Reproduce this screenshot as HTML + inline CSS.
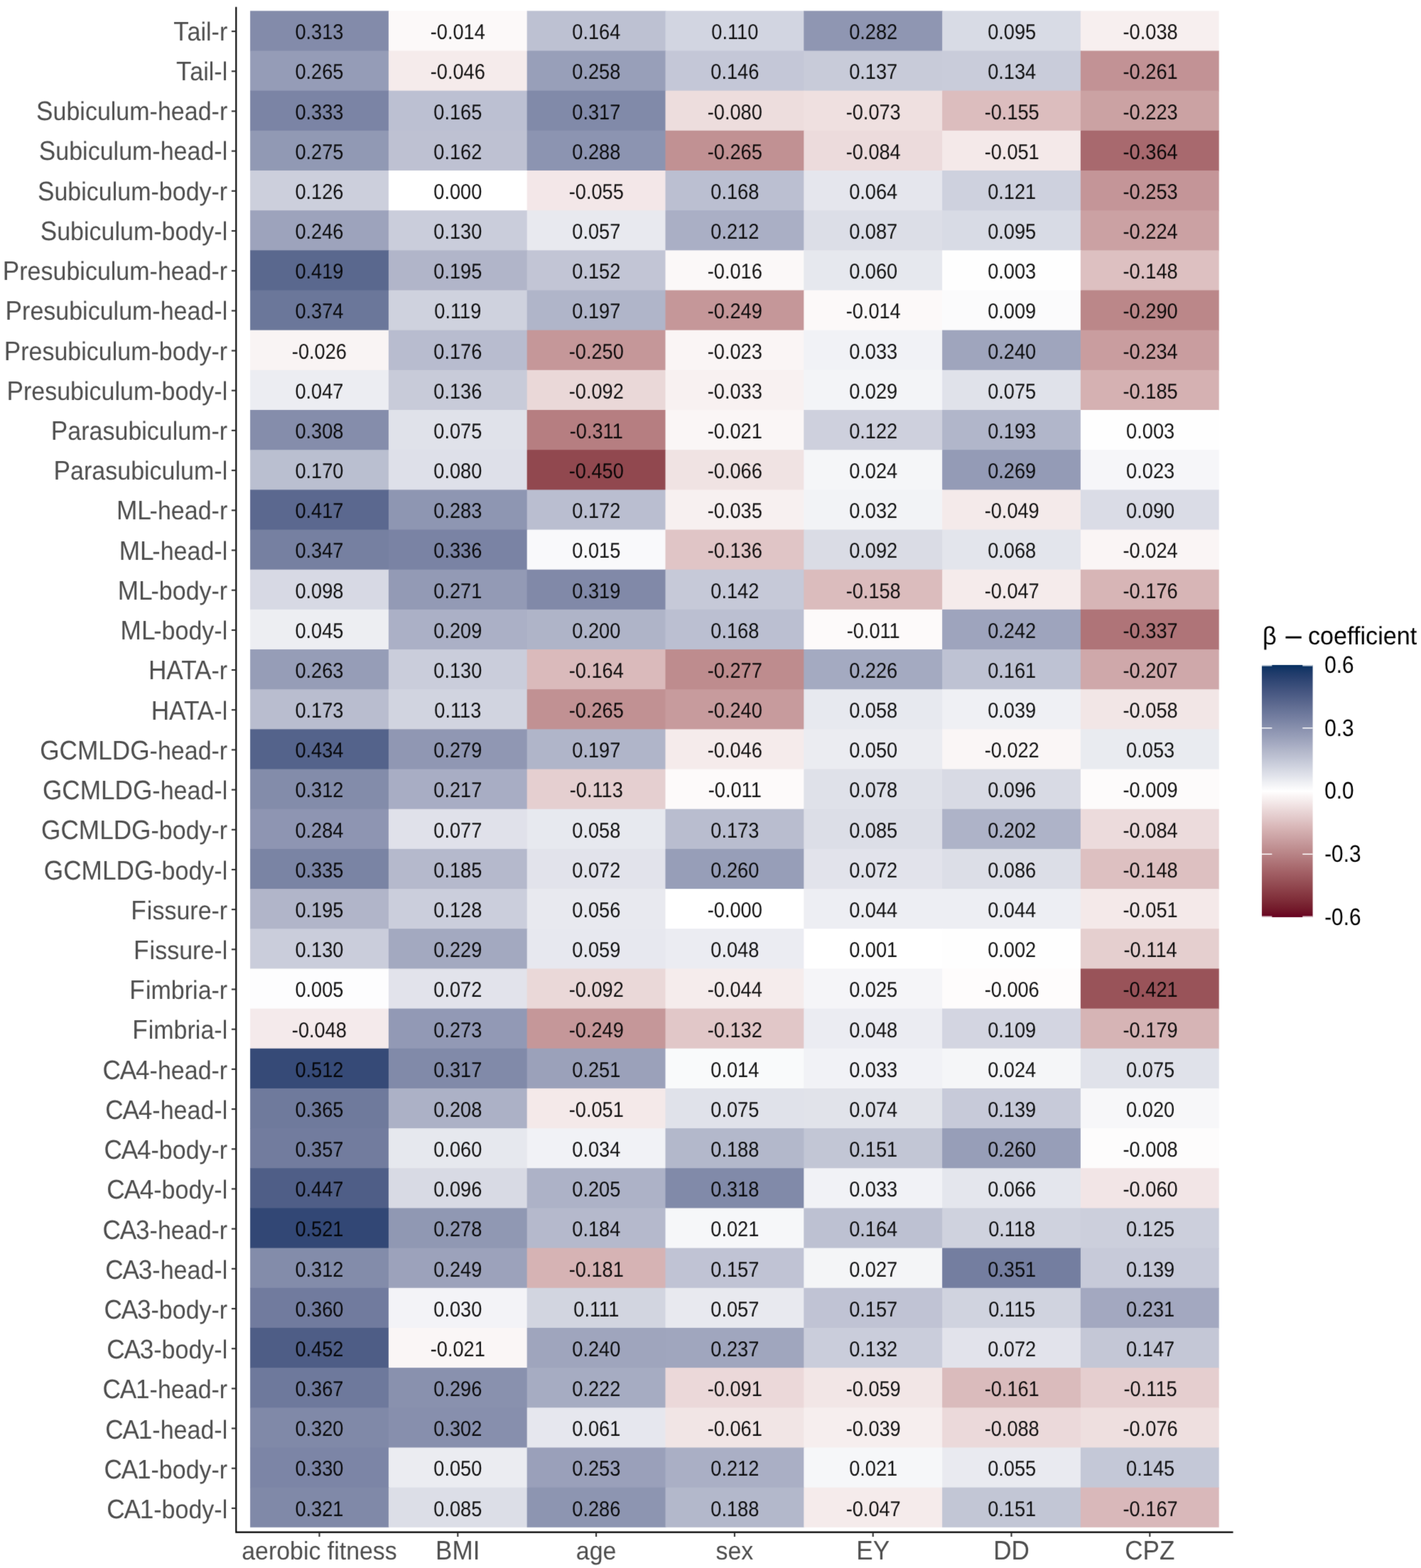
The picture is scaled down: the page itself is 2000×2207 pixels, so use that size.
<!DOCTYPE html>
<html lang="en">
<head>
<meta charset="utf-8">
<title>Heatmap of β-coefficients</title>
<style>
html,body{margin:0;padding:0;background:#fff;}
svg{display:block;}
text{font-family:"Liberation Sans",sans-serif;text-rendering:geometricPrecision;}
.c{font-size:27.2px;fill:#000;fill-opacity:.93;text-anchor:middle;}
.yl{font-size:34.0px;fill:#4D4D4D;text-anchor:end;}
.xl{font-size:33.9px;fill:#4D4D4D;text-anchor:middle;}
.ll{font-size:29.8px;fill:#000;}
.lt{font-size:34.2px;fill:#000;white-space:pre;}
</style>
</head>
<body>
<svg width="2000" height="2207" viewBox="0 0 2000 2207">
<rect width="2000" height="2207" fill="#fff"/>
<defs><linearGradient id="g" x1="0" y1="0" x2="0" y2="1"><stop offset="0.00%" stop-color="#053061"/><stop offset="1.67%" stop-color="#153666"/><stop offset="3.33%" stop-color="#203C6B"/><stop offset="5.00%" stop-color="#294170"/><stop offset="6.67%" stop-color="#324875"/><stop offset="8.33%" stop-color="#3A4E7A"/><stop offset="10.00%" stop-color="#43547F"/><stop offset="11.67%" stop-color="#4A5A84"/><stop offset="13.33%" stop-color="#526189"/><stop offset="15.00%" stop-color="#5A678E"/><stop offset="16.67%" stop-color="#626E93"/><stop offset="18.33%" stop-color="#697599"/><stop offset="20.00%" stop-color="#717B9E"/><stop offset="21.67%" stop-color="#7882A3"/><stop offset="23.33%" stop-color="#8089A8"/><stop offset="25.00%" stop-color="#8890AD"/><stop offset="26.67%" stop-color="#9097B3"/><stop offset="28.33%" stop-color="#979EB8"/><stop offset="30.00%" stop-color="#9FA5BD"/><stop offset="31.67%" stop-color="#A7ACC3"/><stop offset="33.33%" stop-color="#AFB4C8"/><stop offset="35.00%" stop-color="#B7BBCD"/><stop offset="36.67%" stop-color="#BEC2D3"/><stop offset="38.33%" stop-color="#C6CAD8"/><stop offset="40.00%" stop-color="#CED1DE"/><stop offset="41.67%" stop-color="#D6D9E3"/><stop offset="43.33%" stop-color="#DEE0E9"/><stop offset="45.00%" stop-color="#E6E8EE"/><stop offset="46.67%" stop-color="#EFF0F4"/><stop offset="48.33%" stop-color="#F7F7F9"/><stop offset="50.00%" stop-color="#FFFFFF"/><stop offset="51.67%" stop-color="#FBF6F6"/><stop offset="53.33%" stop-color="#F6EEEE"/><stop offset="55.00%" stop-color="#F2E5E6"/><stop offset="56.67%" stop-color="#EDDDDD"/><stop offset="58.33%" stop-color="#E8D4D5"/><stop offset="60.00%" stop-color="#E4CCCD"/><stop offset="61.67%" stop-color="#DFC4C5"/><stop offset="63.33%" stop-color="#DBBBBC"/><stop offset="65.00%" stop-color="#D6B3B4"/><stop offset="66.67%" stop-color="#D1ABAC"/><stop offset="68.33%" stop-color="#CCA3A5"/><stop offset="70.00%" stop-color="#C79B9D"/><stop offset="71.67%" stop-color="#C29395"/><stop offset="73.33%" stop-color="#BD8B8D"/><stop offset="75.00%" stop-color="#B88386"/><stop offset="76.67%" stop-color="#B37B7E"/><stop offset="78.33%" stop-color="#AE7377"/><stop offset="80.00%" stop-color="#A96B6F"/><stop offset="81.67%" stop-color="#A46368"/><stop offset="83.33%" stop-color="#9F5B61"/><stop offset="85.00%" stop-color="#99545A"/><stop offset="86.67%" stop-color="#944C53"/><stop offset="88.33%" stop-color="#8F444C"/><stop offset="90.00%" stop-color="#893C45"/><stop offset="91.67%" stop-color="#84343E"/><stop offset="93.33%" stop-color="#7E2C38"/><stop offset="95.00%" stop-color="#782331"/><stop offset="96.67%" stop-color="#731A2B"/><stop offset="98.33%" stop-color="#6D0E25"/><stop offset="100.00%" stop-color="#67001F"/></linearGradient><filter id="soft" x="0" y="0" width="2000" height="2207" filterUnits="userSpaceOnUse" color-interpolation-filters="sRGB"><feConvolveMatrix order="3" kernelMatrix="0.01134 0.08382 0.01134 0.08382 0.61935 0.08382 0.01134 0.08382 0.01134" divisor="1" edgeMode="duplicate" preserveAlpha="true"/></filter></defs>
<g filter="url(#soft)">
<rect width="2000" height="2207" fill="#fff"/>
<g>
<rect x="352.10" y="15.30" width="195.80" height="57.17" fill="#838BAA"/><rect x="546.90" y="15.30" width="195.80" height="57.17" fill="#FCF9F9"/><rect x="741.70" y="15.30" width="195.80" height="57.17" fill="#BDC1D2"/><rect x="936.50" y="15.30" width="195.80" height="57.17" fill="#D2D5E1"/><rect x="1131.30" y="15.30" width="195.80" height="57.17" fill="#8F96B2"/><rect x="1326.10" y="15.30" width="195.80" height="57.17" fill="#D8DBE5"/><rect x="1520.90" y="15.30" width="194.80" height="57.17" fill="#F7EFEF"/>
<rect x="352.10" y="71.47" width="195.80" height="57.17" fill="#959CB7"/><rect x="546.90" y="71.47" width="195.80" height="57.17" fill="#F5EBEB"/><rect x="741.70" y="71.47" width="195.80" height="57.17" fill="#989FB9"/><rect x="936.50" y="71.47" width="195.80" height="57.17" fill="#C4C7D7"/><rect x="1131.30" y="71.47" width="195.80" height="57.17" fill="#C8CBD9"/><rect x="1326.10" y="71.47" width="195.80" height="57.17" fill="#C9CCDA"/><rect x="1520.90" y="71.47" width="194.80" height="57.17" fill="#C29295"/>
<rect x="352.10" y="127.64" width="195.80" height="57.17" fill="#7B84A5"/><rect x="546.90" y="127.64" width="195.80" height="57.17" fill="#BCC0D2"/><rect x="741.70" y="127.64" width="195.80" height="57.17" fill="#818AA9"/><rect x="936.50" y="127.64" width="195.80" height="57.17" fill="#EDDDDD"/><rect x="1131.30" y="127.64" width="195.80" height="57.17" fill="#EFE0E0"/><rect x="1326.10" y="127.64" width="195.80" height="57.17" fill="#DCBDBE"/><rect x="1520.90" y="127.64" width="194.80" height="57.17" fill="#CBA2A3"/>
<rect x="352.10" y="183.81" width="195.80" height="57.17" fill="#9199B4"/><rect x="546.90" y="183.81" width="195.80" height="57.17" fill="#BEC1D2"/><rect x="741.70" y="183.81" width="195.80" height="57.17" fill="#8C94B1"/><rect x="936.50" y="183.81" width="195.80" height="57.17" fill="#C19193"/><rect x="1131.30" y="183.81" width="195.80" height="57.17" fill="#ECDBDC"/><rect x="1326.10" y="183.81" width="195.80" height="57.17" fill="#F4E9E9"/><rect x="1520.90" y="183.81" width="194.80" height="57.17" fill="#A8696E"/>
<rect x="352.10" y="239.98" width="195.80" height="57.17" fill="#CCCFDC"/><rect x="546.90" y="239.98" width="195.80" height="57.17" fill="#FFFFFF"/><rect x="741.70" y="239.98" width="195.80" height="57.17" fill="#F3E7E8"/><rect x="936.50" y="239.98" width="195.80" height="57.17" fill="#BBBFD1"/><rect x="1131.30" y="239.98" width="195.80" height="57.17" fill="#E5E6ED"/><rect x="1326.10" y="239.98" width="195.80" height="57.17" fill="#CED1DE"/><rect x="1520.90" y="239.98" width="194.80" height="57.17" fill="#C49598"/>
<rect x="352.10" y="296.16" width="195.80" height="57.17" fill="#9DA3BC"/><rect x="546.90" y="296.16" width="195.80" height="57.17" fill="#CACDDB"/><rect x="741.70" y="296.16" width="195.80" height="57.17" fill="#E8E9EF"/><rect x="936.50" y="296.16" width="195.80" height="57.17" fill="#AAAFC5"/><rect x="1131.30" y="296.16" width="195.80" height="57.17" fill="#DCDEE7"/><rect x="1326.10" y="296.16" width="195.80" height="57.17" fill="#D8DBE5"/><rect x="1520.90" y="296.16" width="194.80" height="57.17" fill="#CBA1A3"/>
<rect x="352.10" y="352.33" width="195.80" height="57.17" fill="#5A688E"/><rect x="546.90" y="352.33" width="195.80" height="57.17" fill="#B1B5C9"/><rect x="741.70" y="352.33" width="195.80" height="57.17" fill="#C2C5D5"/><rect x="936.50" y="352.33" width="195.80" height="57.17" fill="#FBF8F8"/><rect x="1131.30" y="352.33" width="195.80" height="57.17" fill="#E6E8EE"/><rect x="1326.10" y="352.33" width="195.80" height="57.17" fill="#FEFEFE"/><rect x="1520.90" y="352.33" width="194.80" height="57.17" fill="#DDC0C1"/>
<rect x="352.10" y="408.50" width="195.80" height="57.17" fill="#6B779A"/><rect x="546.90" y="408.50" width="195.80" height="57.17" fill="#CFD2DE"/><rect x="741.70" y="408.50" width="195.80" height="57.17" fill="#B0B5C9"/><rect x="936.50" y="408.50" width="195.80" height="57.17" fill="#C59799"/><rect x="1131.30" y="408.50" width="195.80" height="57.17" fill="#FCF9F9"/><rect x="1326.10" y="408.50" width="195.80" height="57.17" fill="#FBFBFC"/><rect x="1520.90" y="408.50" width="194.80" height="57.17" fill="#BB8789"/>
<rect x="352.10" y="464.67" width="195.80" height="57.17" fill="#F9F4F4"/><rect x="546.90" y="464.67" width="195.80" height="57.17" fill="#B8BCCF"/><rect x="741.70" y="464.67" width="195.80" height="57.17" fill="#C59799"/><rect x="936.50" y="464.67" width="195.80" height="57.17" fill="#FAF5F5"/><rect x="1131.30" y="464.67" width="195.80" height="57.17" fill="#F1F2F6"/><rect x="1326.10" y="464.67" width="195.80" height="57.17" fill="#9FA5BD"/><rect x="1520.90" y="464.67" width="194.80" height="57.17" fill="#C99D9F"/>
<rect x="352.10" y="520.84" width="195.80" height="57.17" fill="#ECEDF2"/><rect x="546.90" y="520.84" width="195.80" height="57.17" fill="#C8CBD9"/><rect x="741.70" y="520.84" width="195.80" height="57.17" fill="#EAD8D8"/><rect x="936.50" y="520.84" width="195.80" height="57.17" fill="#F8F1F1"/><rect x="1131.30" y="520.84" width="195.80" height="57.17" fill="#F3F4F7"/><rect x="1326.10" y="520.84" width="195.80" height="57.17" fill="#E0E2EA"/><rect x="1520.90" y="520.84" width="194.80" height="57.17" fill="#D5B1B2"/>
<rect x="352.10" y="577.01" width="195.80" height="57.17" fill="#858DAB"/><rect x="546.90" y="577.01" width="195.80" height="57.17" fill="#E0E2EA"/><rect x="741.70" y="577.01" width="195.80" height="57.17" fill="#B67E81"/><rect x="936.50" y="577.01" width="195.80" height="57.17" fill="#FAF6F6"/><rect x="1131.30" y="577.01" width="195.80" height="57.17" fill="#CED0DD"/><rect x="1326.10" y="577.01" width="195.80" height="57.17" fill="#B1B6CA"/><rect x="1520.90" y="577.01" width="194.80" height="57.17" fill="#FEFEFE"/>
<rect x="352.10" y="633.18" width="195.80" height="57.17" fill="#BABFD0"/><rect x="546.90" y="633.18" width="195.80" height="57.17" fill="#DEE0E9"/><rect x="741.70" y="633.18" width="195.80" height="57.17" fill="#91484F"/><rect x="936.50" y="633.18" width="195.80" height="57.17" fill="#F0E3E3"/><rect x="1131.30" y="633.18" width="195.80" height="57.17" fill="#F5F6F8"/><rect x="1326.10" y="633.18" width="195.80" height="57.17" fill="#949BB6"/><rect x="1520.90" y="633.18" width="194.80" height="57.17" fill="#F6F6F9"/>
<rect x="352.10" y="689.35" width="195.80" height="57.17" fill="#5B688F"/><rect x="546.90" y="689.35" width="195.80" height="57.17" fill="#8E96B2"/><rect x="741.70" y="689.35" width="195.80" height="57.17" fill="#BABED0"/><rect x="936.50" y="689.35" width="195.80" height="57.17" fill="#F7F0F0"/><rect x="1131.30" y="689.35" width="195.80" height="57.17" fill="#F2F3F6"/><rect x="1326.10" y="689.35" width="195.80" height="57.17" fill="#F4EAEA"/><rect x="1520.90" y="689.35" width="194.80" height="57.17" fill="#DADCE6"/>
<rect x="352.10" y="745.52" width="195.80" height="57.17" fill="#7680A1"/><rect x="546.90" y="745.52" width="195.80" height="57.17" fill="#7A83A4"/><rect x="741.70" y="745.52" width="195.80" height="57.17" fill="#F9F9FB"/><rect x="936.50" y="745.52" width="195.80" height="57.17" fill="#E0C5C6"/><rect x="1131.30" y="745.52" width="195.80" height="57.17" fill="#DADCE5"/><rect x="1326.10" y="745.52" width="195.80" height="57.17" fill="#E3E5EC"/><rect x="1520.90" y="745.52" width="194.80" height="57.17" fill="#FAF5F5"/>
<rect x="352.10" y="801.69" width="195.80" height="57.17" fill="#D7D9E4"/><rect x="546.90" y="801.69" width="195.80" height="57.17" fill="#939AB5"/><rect x="741.70" y="801.69" width="195.80" height="57.17" fill="#8189A8"/><rect x="936.50" y="801.69" width="195.80" height="57.17" fill="#C6C9D8"/><rect x="1131.30" y="801.69" width="195.80" height="57.17" fill="#DBBCBD"/><rect x="1326.10" y="801.69" width="195.80" height="57.17" fill="#F5EBEB"/><rect x="1520.90" y="801.69" width="194.80" height="57.17" fill="#D7B5B6"/>
<rect x="352.10" y="857.87" width="195.80" height="57.17" fill="#EDEEF2"/><rect x="546.90" y="857.87" width="195.80" height="57.17" fill="#ABB0C6"/><rect x="741.70" y="857.87" width="195.80" height="57.17" fill="#AFB4C8"/><rect x="936.50" y="857.87" width="195.80" height="57.17" fill="#BBBFD1"/><rect x="1131.30" y="857.87" width="195.80" height="57.17" fill="#FDFAFA"/><rect x="1326.10" y="857.87" width="195.80" height="57.17" fill="#9EA4BD"/><rect x="1520.90" y="857.87" width="194.80" height="57.17" fill="#AF7478"/>
<rect x="352.10" y="914.04" width="195.80" height="57.17" fill="#969DB7"/><rect x="546.90" y="914.04" width="195.80" height="57.17" fill="#CACDDB"/><rect x="741.70" y="914.04" width="195.80" height="57.17" fill="#DABABB"/><rect x="936.50" y="914.04" width="195.80" height="57.17" fill="#BE8C8E"/><rect x="1131.30" y="914.04" width="195.80" height="57.17" fill="#A4AAC1"/><rect x="1326.10" y="914.04" width="195.80" height="57.17" fill="#BEC2D3"/><rect x="1520.90" y="914.04" width="194.80" height="57.17" fill="#CFA8AA"/>
<rect x="352.10" y="970.21" width="195.80" height="57.17" fill="#B9BDCF"/><rect x="546.90" y="970.21" width="195.80" height="57.17" fill="#D1D4E0"/><rect x="741.70" y="970.21" width="195.80" height="57.17" fill="#C19193"/><rect x="936.50" y="970.21" width="195.80" height="57.17" fill="#C79B9D"/><rect x="1131.30" y="970.21" width="195.80" height="57.17" fill="#E7E9EF"/><rect x="1326.10" y="970.21" width="195.80" height="57.17" fill="#EFF0F4"/><rect x="1520.90" y="970.21" width="194.80" height="57.17" fill="#F2E6E6"/>
<rect x="352.10" y="1026.38" width="195.80" height="57.17" fill="#54638B"/><rect x="546.90" y="1026.38" width="195.80" height="57.17" fill="#9097B3"/><rect x="741.70" y="1026.38" width="195.80" height="57.17" fill="#B0B5C9"/><rect x="936.50" y="1026.38" width="195.80" height="57.17" fill="#F5EBEB"/><rect x="1131.30" y="1026.38" width="195.80" height="57.17" fill="#EBECF1"/><rect x="1326.10" y="1026.38" width="195.80" height="57.17" fill="#FAF6F6"/><rect x="1520.90" y="1026.38" width="194.80" height="57.17" fill="#E9EBF0"/>
<rect x="352.10" y="1082.55" width="195.80" height="57.17" fill="#838CAA"/><rect x="546.90" y="1082.55" width="195.80" height="57.17" fill="#A8ADC4"/><rect x="741.70" y="1082.55" width="195.80" height="57.17" fill="#E5CFD0"/><rect x="936.50" y="1082.55" width="195.80" height="57.17" fill="#FDFAFA"/><rect x="1131.30" y="1082.55" width="195.80" height="57.17" fill="#DFE1E9"/><rect x="1326.10" y="1082.55" width="195.80" height="57.17" fill="#D8DAE4"/><rect x="1520.90" y="1082.55" width="194.80" height="57.17" fill="#FDFBFB"/>
<rect x="352.10" y="1138.72" width="195.80" height="57.17" fill="#8E95B2"/><rect x="546.90" y="1138.72" width="195.80" height="57.17" fill="#E0E1EA"/><rect x="741.70" y="1138.72" width="195.80" height="57.17" fill="#E7E9EF"/><rect x="936.50" y="1138.72" width="195.80" height="57.17" fill="#B9BDCF"/><rect x="1131.30" y="1138.72" width="195.80" height="57.17" fill="#DCDEE7"/><rect x="1326.10" y="1138.72" width="195.80" height="57.17" fill="#AEB3C8"/><rect x="1520.90" y="1138.72" width="194.80" height="57.17" fill="#ECDBDC"/>
<rect x="352.10" y="1194.89" width="195.80" height="57.17" fill="#7A84A4"/><rect x="546.90" y="1194.89" width="195.80" height="57.17" fill="#B5B9CC"/><rect x="741.70" y="1194.89" width="195.80" height="57.17" fill="#E2E3EB"/><rect x="936.50" y="1194.89" width="195.80" height="57.17" fill="#979EB8"/><rect x="1131.30" y="1194.89" width="195.80" height="57.17" fill="#E2E3EB"/><rect x="1326.10" y="1194.89" width="195.80" height="57.17" fill="#DCDEE7"/><rect x="1520.90" y="1194.89" width="194.80" height="57.17" fill="#DDC0C1"/>
<rect x="352.10" y="1251.06" width="195.80" height="57.17" fill="#B1B5C9"/><rect x="546.90" y="1251.06" width="195.80" height="57.17" fill="#CBCEDC"/><rect x="741.70" y="1251.06" width="195.80" height="57.17" fill="#E8E9EF"/><rect x="936.50" y="1251.06" width="195.80" height="57.17" fill="#FFFFFF"/><rect x="1131.30" y="1251.06" width="195.80" height="57.17" fill="#EDEEF3"/><rect x="1326.10" y="1251.06" width="195.80" height="57.17" fill="#EDEEF3"/><rect x="1520.90" y="1251.06" width="194.80" height="57.17" fill="#F4E9E9"/>
<rect x="352.10" y="1307.23" width="195.80" height="57.17" fill="#CACDDB"/><rect x="546.90" y="1307.23" width="195.80" height="57.17" fill="#A3A9C0"/><rect x="741.70" y="1307.23" width="195.80" height="57.17" fill="#E7E8EF"/><rect x="936.50" y="1307.23" width="195.80" height="57.17" fill="#EBECF2"/><rect x="1131.30" y="1307.23" width="195.80" height="57.17" fill="#FFFFFF"/><rect x="1326.10" y="1307.23" width="195.80" height="57.17" fill="#FEFEFE"/><rect x="1520.90" y="1307.23" width="194.80" height="57.17" fill="#E5CFCF"/>
<rect x="352.10" y="1363.41" width="195.80" height="57.17" fill="#FDFDFE"/><rect x="546.90" y="1363.41" width="195.80" height="57.17" fill="#E2E3EB"/><rect x="741.70" y="1363.41" width="195.80" height="57.17" fill="#EAD8D8"/><rect x="936.50" y="1363.41" width="195.80" height="57.17" fill="#F5ECEC"/><rect x="1131.30" y="1363.41" width="195.80" height="57.17" fill="#F5F5F8"/><rect x="1326.10" y="1363.41" width="195.80" height="57.17" fill="#FEFCFC"/><rect x="1520.90" y="1363.41" width="194.80" height="57.17" fill="#995359"/>
<rect x="352.10" y="1419.58" width="195.80" height="57.17" fill="#F4EAEB"/><rect x="546.90" y="1419.58" width="195.80" height="57.17" fill="#9299B5"/><rect x="741.70" y="1419.58" width="195.80" height="57.17" fill="#C59799"/><rect x="936.50" y="1419.58" width="195.80" height="57.17" fill="#E1C7C8"/><rect x="1131.30" y="1419.58" width="195.80" height="57.17" fill="#EBECF2"/><rect x="1326.10" y="1419.58" width="195.80" height="57.17" fill="#D3D5E1"/><rect x="1520.90" y="1419.58" width="194.80" height="57.17" fill="#D6B4B5"/>
<rect x="352.10" y="1475.75" width="195.80" height="57.17" fill="#364A77"/><rect x="546.90" y="1475.75" width="195.80" height="57.17" fill="#818AA9"/><rect x="741.70" y="1475.75" width="195.80" height="57.17" fill="#9BA1BA"/><rect x="936.50" y="1475.75" width="195.80" height="57.17" fill="#F9FAFB"/><rect x="1131.30" y="1475.75" width="195.80" height="57.17" fill="#F1F2F6"/><rect x="1326.10" y="1475.75" width="195.80" height="57.17" fill="#F5F6F8"/><rect x="1520.90" y="1475.75" width="194.80" height="57.17" fill="#E0E2EA"/>
<rect x="352.10" y="1531.92" width="195.80" height="57.17" fill="#6F7A9C"/><rect x="546.90" y="1531.92" width="195.80" height="57.17" fill="#ACB1C6"/><rect x="741.70" y="1531.92" width="195.80" height="57.17" fill="#F4E9E9"/><rect x="936.50" y="1531.92" width="195.80" height="57.17" fill="#E0E2EA"/><rect x="1131.30" y="1531.92" width="195.80" height="57.17" fill="#E1E3EA"/><rect x="1326.10" y="1531.92" width="195.80" height="57.17" fill="#C7CAD9"/><rect x="1520.90" y="1531.92" width="194.80" height="57.17" fill="#F7F7F9"/>
<rect x="352.10" y="1588.09" width="195.80" height="57.17" fill="#727C9E"/><rect x="546.90" y="1588.09" width="195.80" height="57.17" fill="#E6E8EE"/><rect x="741.70" y="1588.09" width="195.80" height="57.17" fill="#F1F2F6"/><rect x="936.50" y="1588.09" width="195.80" height="57.17" fill="#B3B8CB"/><rect x="1131.30" y="1588.09" width="195.80" height="57.17" fill="#C2C6D5"/><rect x="1326.10" y="1588.09" width="195.80" height="57.17" fill="#979EB8"/><rect x="1520.90" y="1588.09" width="194.80" height="57.17" fill="#FDFCFC"/>
<rect x="352.10" y="1644.26" width="195.80" height="57.17" fill="#4F5E87"/><rect x="546.90" y="1644.26" width="195.80" height="57.17" fill="#D8DAE4"/><rect x="741.70" y="1644.26" width="195.80" height="57.17" fill="#ADB2C7"/><rect x="936.50" y="1644.26" width="195.80" height="57.17" fill="#818AA9"/><rect x="1131.30" y="1644.26" width="195.80" height="57.17" fill="#F1F2F6"/><rect x="1326.10" y="1644.26" width="195.80" height="57.17" fill="#E4E6ED"/><rect x="1520.90" y="1644.26" width="194.80" height="57.17" fill="#F2E5E6"/>
<rect x="352.10" y="1700.43" width="195.80" height="57.17" fill="#324775"/><rect x="546.90" y="1700.43" width="195.80" height="57.17" fill="#9098B3"/><rect x="741.70" y="1700.43" width="195.80" height="57.17" fill="#B5B9CC"/><rect x="936.50" y="1700.43" width="195.80" height="57.17" fill="#F6F7F9"/><rect x="1131.30" y="1700.43" width="195.80" height="57.17" fill="#BDC1D2"/><rect x="1326.10" y="1700.43" width="195.80" height="57.17" fill="#CFD2DE"/><rect x="1520.90" y="1700.43" width="194.80" height="57.17" fill="#CCCFDC"/>
<rect x="352.10" y="1756.60" width="195.80" height="57.17" fill="#838CAA"/><rect x="546.90" y="1756.60" width="195.80" height="57.17" fill="#9CA2BB"/><rect x="741.70" y="1756.60" width="195.80" height="57.17" fill="#D6B3B4"/><rect x="936.50" y="1756.60" width="195.80" height="57.17" fill="#C0C3D4"/><rect x="1131.30" y="1756.60" width="195.80" height="57.17" fill="#F4F5F7"/><rect x="1326.10" y="1756.60" width="195.80" height="57.17" fill="#747EA0"/><rect x="1520.90" y="1756.60" width="194.80" height="57.17" fill="#C7CAD9"/>
<rect x="352.10" y="1812.77" width="195.80" height="57.17" fill="#717B9E"/><rect x="546.90" y="1812.77" width="195.80" height="57.17" fill="#F3F3F7"/><rect x="741.70" y="1812.77" width="195.80" height="57.17" fill="#D2D5E0"/><rect x="936.50" y="1812.77" width="195.80" height="57.17" fill="#E8E9EF"/><rect x="1131.30" y="1812.77" width="195.80" height="57.17" fill="#C0C3D4"/><rect x="1326.10" y="1812.77" width="195.80" height="57.17" fill="#D0D3DF"/><rect x="1520.90" y="1812.77" width="194.80" height="57.17" fill="#A3A8C0"/>
<rect x="352.10" y="1868.94" width="195.80" height="57.17" fill="#4E5D86"/><rect x="546.90" y="1868.94" width="195.80" height="57.17" fill="#FAF6F6"/><rect x="741.70" y="1868.94" width="195.80" height="57.17" fill="#9FA5BD"/><rect x="936.50" y="1868.94" width="195.80" height="57.17" fill="#A0A6BE"/><rect x="1131.30" y="1868.94" width="195.80" height="57.17" fill="#CACDDB"/><rect x="1326.10" y="1868.94" width="195.80" height="57.17" fill="#E2E3EB"/><rect x="1520.90" y="1868.94" width="194.80" height="57.17" fill="#C4C7D6"/>
<rect x="352.10" y="1925.12" width="195.80" height="57.17" fill="#6E799C"/><rect x="546.90" y="1925.12" width="195.80" height="57.17" fill="#8991AE"/><rect x="741.70" y="1925.12" width="195.80" height="57.17" fill="#A6ACC2"/><rect x="936.50" y="1925.12" width="195.80" height="57.17" fill="#EBD8D9"/><rect x="1131.30" y="1925.12" width="195.80" height="57.17" fill="#F2E6E6"/><rect x="1326.10" y="1925.12" width="195.80" height="57.17" fill="#DABBBC"/><rect x="1520.90" y="1925.12" width="194.80" height="57.17" fill="#E5CECF"/>
<rect x="352.10" y="1981.29" width="195.80" height="57.17" fill="#8089A8"/><rect x="546.90" y="1981.29" width="195.80" height="57.17" fill="#878FAD"/><rect x="741.70" y="1981.29" width="195.80" height="57.17" fill="#E6E7EE"/><rect x="936.50" y="1981.29" width="195.80" height="57.17" fill="#F1E5E5"/><rect x="1131.30" y="1981.29" width="195.80" height="57.17" fill="#F6EEEE"/><rect x="1326.10" y="1981.29" width="195.80" height="57.17" fill="#EBD9DA"/><rect x="1520.90" y="1981.29" width="194.80" height="57.17" fill="#EEDFDF"/>
<rect x="352.10" y="2037.46" width="195.80" height="57.17" fill="#7C85A6"/><rect x="546.90" y="2037.46" width="195.80" height="57.17" fill="#EBECF1"/><rect x="741.70" y="2037.46" width="195.80" height="57.17" fill="#9AA0BA"/><rect x="936.50" y="2037.46" width="195.80" height="57.17" fill="#AAAFC5"/><rect x="1131.30" y="2037.46" width="195.80" height="57.17" fill="#F6F7F9"/><rect x="1326.10" y="2037.46" width="195.80" height="57.17" fill="#E9EAF0"/><rect x="1520.90" y="2037.46" width="194.80" height="57.17" fill="#C4C8D7"/>
<rect x="352.10" y="2093.63" width="195.80" height="56.17" fill="#8089A8"/><rect x="546.90" y="2093.63" width="195.80" height="56.17" fill="#DCDEE7"/><rect x="741.70" y="2093.63" width="195.80" height="56.17" fill="#8D95B1"/><rect x="936.50" y="2093.63" width="195.80" height="56.17" fill="#B3B8CB"/><rect x="1131.30" y="2093.63" width="195.80" height="56.17" fill="#F5EBEB"/><rect x="1326.10" y="2093.63" width="195.80" height="56.17" fill="#C2C6D5"/><rect x="1520.90" y="2093.63" width="194.80" height="56.17" fill="#D9B8BA"/>
</g>
<g class="c">
<text transform="translate(449.4 55.2) scale(1 1.11)">0.313</text><text transform="translate(644.3 55.2) scale(1 1.11)">-0.014</text><text transform="translate(839.3 55.2) scale(1 1.11)">0.164</text><text transform="translate(1034.3 55.2) scale(1 1.11)">0.110</text><text transform="translate(1229.2 55.2) scale(1 1.11)">0.282</text><text transform="translate(1424.2 55.2) scale(1 1.11)">0.095</text><text transform="translate(1619.1 55.2) scale(1 1.11)">-0.038</text>
<text transform="translate(449.4 111.4) scale(1 1.11)">0.265</text><text transform="translate(644.3 111.4) scale(1 1.11)">-0.046</text><text transform="translate(839.3 111.4) scale(1 1.11)">0.258</text><text transform="translate(1034.3 111.4) scale(1 1.11)">0.146</text><text transform="translate(1229.2 111.4) scale(1 1.11)">0.137</text><text transform="translate(1424.2 111.4) scale(1 1.11)">0.134</text><text transform="translate(1619.1 111.4) scale(1 1.11)">-0.261</text>
<text transform="translate(449.4 167.5) scale(1 1.11)">0.333</text><text transform="translate(644.3 167.5) scale(1 1.11)">0.165</text><text transform="translate(839.3 167.5) scale(1 1.11)">0.317</text><text transform="translate(1034.3 167.5) scale(1 1.11)">-0.080</text><text transform="translate(1229.2 167.5) scale(1 1.11)">-0.073</text><text transform="translate(1424.2 167.5) scale(1 1.11)">-0.155</text><text transform="translate(1619.1 167.5) scale(1 1.11)">-0.223</text>
<text transform="translate(449.4 223.7) scale(1 1.11)">0.275</text><text transform="translate(644.3 223.7) scale(1 1.11)">0.162</text><text transform="translate(839.3 223.7) scale(1 1.11)">0.288</text><text transform="translate(1034.3 223.7) scale(1 1.11)">-0.265</text><text transform="translate(1229.2 223.7) scale(1 1.11)">-0.084</text><text transform="translate(1424.2 223.7) scale(1 1.11)">-0.051</text><text transform="translate(1619.1 223.7) scale(1 1.11)">-0.364</text>
<text transform="translate(449.4 279.9) scale(1 1.11)">0.126</text><text transform="translate(644.3 279.9) scale(1 1.11)">0.000</text><text transform="translate(839.3 279.9) scale(1 1.11)">-0.055</text><text transform="translate(1034.3 279.9) scale(1 1.11)">0.168</text><text transform="translate(1229.2 279.9) scale(1 1.11)">0.064</text><text transform="translate(1424.2 279.9) scale(1 1.11)">0.121</text><text transform="translate(1619.1 279.9) scale(1 1.11)">-0.253</text>
<text transform="translate(449.4 336.0) scale(1 1.11)">0.246</text><text transform="translate(644.3 336.0) scale(1 1.11)">0.130</text><text transform="translate(839.3 336.0) scale(1 1.11)">0.057</text><text transform="translate(1034.3 336.0) scale(1 1.11)">0.212</text><text transform="translate(1229.2 336.0) scale(1 1.11)">0.087</text><text transform="translate(1424.2 336.0) scale(1 1.11)">0.095</text><text transform="translate(1619.1 336.0) scale(1 1.11)">-0.224</text>
<text transform="translate(449.4 392.2) scale(1 1.11)">0.419</text><text transform="translate(644.3 392.2) scale(1 1.11)">0.195</text><text transform="translate(839.3 392.2) scale(1 1.11)">0.152</text><text transform="translate(1034.3 392.2) scale(1 1.11)">-0.016</text><text transform="translate(1229.2 392.2) scale(1 1.11)">0.060</text><text transform="translate(1424.2 392.2) scale(1 1.11)">0.003</text><text transform="translate(1619.1 392.2) scale(1 1.11)">-0.148</text>
<text transform="translate(449.4 448.4) scale(1 1.11)">0.374</text><text transform="translate(644.3 448.4) scale(1 1.11)">0.119</text><text transform="translate(839.3 448.4) scale(1 1.11)">0.197</text><text transform="translate(1034.3 448.4) scale(1 1.11)">-0.249</text><text transform="translate(1229.2 448.4) scale(1 1.11)">-0.014</text><text transform="translate(1424.2 448.4) scale(1 1.11)">0.009</text><text transform="translate(1619.1 448.4) scale(1 1.11)">-0.290</text>
<text transform="translate(449.4 504.6) scale(1 1.11)">-0.026</text><text transform="translate(644.3 504.6) scale(1 1.11)">0.176</text><text transform="translate(839.3 504.6) scale(1 1.11)">-0.250</text><text transform="translate(1034.3 504.6) scale(1 1.11)">-0.023</text><text transform="translate(1229.2 504.6) scale(1 1.11)">0.033</text><text transform="translate(1424.2 504.6) scale(1 1.11)">0.240</text><text transform="translate(1619.1 504.6) scale(1 1.11)">-0.234</text>
<text transform="translate(449.4 560.7) scale(1 1.11)">0.047</text><text transform="translate(644.3 560.7) scale(1 1.11)">0.136</text><text transform="translate(839.3 560.7) scale(1 1.11)">-0.092</text><text transform="translate(1034.3 560.7) scale(1 1.11)">-0.033</text><text transform="translate(1229.2 560.7) scale(1 1.11)">0.029</text><text transform="translate(1424.2 560.7) scale(1 1.11)">0.075</text><text transform="translate(1619.1 560.7) scale(1 1.11)">-0.185</text>
<text transform="translate(449.4 616.9) scale(1 1.11)">0.308</text><text transform="translate(644.3 616.9) scale(1 1.11)">0.075</text><text transform="translate(839.3 616.9) scale(1 1.11)">-0.311</text><text transform="translate(1034.3 616.9) scale(1 1.11)">-0.021</text><text transform="translate(1229.2 616.9) scale(1 1.11)">0.122</text><text transform="translate(1424.2 616.9) scale(1 1.11)">0.193</text><text transform="translate(1619.1 616.9) scale(1 1.11)">0.003</text>
<text transform="translate(449.4 673.1) scale(1 1.11)">0.170</text><text transform="translate(644.3 673.1) scale(1 1.11)">0.080</text><text transform="translate(839.3 673.1) scale(1 1.11)">-0.450</text><text transform="translate(1034.3 673.1) scale(1 1.11)">-0.066</text><text transform="translate(1229.2 673.1) scale(1 1.11)">0.024</text><text transform="translate(1424.2 673.1) scale(1 1.11)">0.269</text><text transform="translate(1619.1 673.1) scale(1 1.11)">0.023</text>
<text transform="translate(449.4 729.2) scale(1 1.11)">0.417</text><text transform="translate(644.3 729.2) scale(1 1.11)">0.283</text><text transform="translate(839.3 729.2) scale(1 1.11)">0.172</text><text transform="translate(1034.3 729.2) scale(1 1.11)">-0.035</text><text transform="translate(1229.2 729.2) scale(1 1.11)">0.032</text><text transform="translate(1424.2 729.2) scale(1 1.11)">-0.049</text><text transform="translate(1619.1 729.2) scale(1 1.11)">0.090</text>
<text transform="translate(449.4 785.4) scale(1 1.11)">0.347</text><text transform="translate(644.3 785.4) scale(1 1.11)">0.336</text><text transform="translate(839.3 785.4) scale(1 1.11)">0.015</text><text transform="translate(1034.3 785.4) scale(1 1.11)">-0.136</text><text transform="translate(1229.2 785.4) scale(1 1.11)">0.092</text><text transform="translate(1424.2 785.4) scale(1 1.11)">0.068</text><text transform="translate(1619.1 785.4) scale(1 1.11)">-0.024</text>
<text transform="translate(449.4 841.6) scale(1 1.11)">0.098</text><text transform="translate(644.3 841.6) scale(1 1.11)">0.271</text><text transform="translate(839.3 841.6) scale(1 1.11)">0.319</text><text transform="translate(1034.3 841.6) scale(1 1.11)">0.142</text><text transform="translate(1229.2 841.6) scale(1 1.11)">-0.158</text><text transform="translate(1424.2 841.6) scale(1 1.11)">-0.047</text><text transform="translate(1619.1 841.6) scale(1 1.11)">-0.176</text>
<text transform="translate(449.4 897.8) scale(1 1.11)">0.045</text><text transform="translate(644.3 897.8) scale(1 1.11)">0.209</text><text transform="translate(839.3 897.8) scale(1 1.11)">0.200</text><text transform="translate(1034.3 897.8) scale(1 1.11)">0.168</text><text transform="translate(1229.2 897.8) scale(1 1.11)">-0.011</text><text transform="translate(1424.2 897.8) scale(1 1.11)">0.242</text><text transform="translate(1619.1 897.8) scale(1 1.11)">-0.337</text>
<text transform="translate(449.4 953.9) scale(1 1.11)">0.263</text><text transform="translate(644.3 953.9) scale(1 1.11)">0.130</text><text transform="translate(839.3 953.9) scale(1 1.11)">-0.164</text><text transform="translate(1034.3 953.9) scale(1 1.11)">-0.277</text><text transform="translate(1229.2 953.9) scale(1 1.11)">0.226</text><text transform="translate(1424.2 953.9) scale(1 1.11)">0.161</text><text transform="translate(1619.1 953.9) scale(1 1.11)">-0.207</text>
<text transform="translate(449.4 1010.1) scale(1 1.11)">0.173</text><text transform="translate(644.3 1010.1) scale(1 1.11)">0.113</text><text transform="translate(839.3 1010.1) scale(1 1.11)">-0.265</text><text transform="translate(1034.3 1010.1) scale(1 1.11)">-0.240</text><text transform="translate(1229.2 1010.1) scale(1 1.11)">0.058</text><text transform="translate(1424.2 1010.1) scale(1 1.11)">0.039</text><text transform="translate(1619.1 1010.1) scale(1 1.11)">-0.058</text>
<text transform="translate(449.4 1066.3) scale(1 1.11)">0.434</text><text transform="translate(644.3 1066.3) scale(1 1.11)">0.279</text><text transform="translate(839.3 1066.3) scale(1 1.11)">0.197</text><text transform="translate(1034.3 1066.3) scale(1 1.11)">-0.046</text><text transform="translate(1229.2 1066.3) scale(1 1.11)">0.050</text><text transform="translate(1424.2 1066.3) scale(1 1.11)">-0.022</text><text transform="translate(1619.1 1066.3) scale(1 1.11)">0.053</text>
<text transform="translate(449.4 1122.4) scale(1 1.11)">0.312</text><text transform="translate(644.3 1122.4) scale(1 1.11)">0.217</text><text transform="translate(839.3 1122.4) scale(1 1.11)">-0.113</text><text transform="translate(1034.3 1122.4) scale(1 1.11)">-0.011</text><text transform="translate(1229.2 1122.4) scale(1 1.11)">0.078</text><text transform="translate(1424.2 1122.4) scale(1 1.11)">0.096</text><text transform="translate(1619.1 1122.4) scale(1 1.11)">-0.009</text>
<text transform="translate(449.4 1178.6) scale(1 1.11)">0.284</text><text transform="translate(644.3 1178.6) scale(1 1.11)">0.077</text><text transform="translate(839.3 1178.6) scale(1 1.11)">0.058</text><text transform="translate(1034.3 1178.6) scale(1 1.11)">0.173</text><text transform="translate(1229.2 1178.6) scale(1 1.11)">0.085</text><text transform="translate(1424.2 1178.6) scale(1 1.11)">0.202</text><text transform="translate(1619.1 1178.6) scale(1 1.11)">-0.084</text>
<text transform="translate(449.4 1234.8) scale(1 1.11)">0.335</text><text transform="translate(644.3 1234.8) scale(1 1.11)">0.185</text><text transform="translate(839.3 1234.8) scale(1 1.11)">0.072</text><text transform="translate(1034.3 1234.8) scale(1 1.11)">0.260</text><text transform="translate(1229.2 1234.8) scale(1 1.11)">0.072</text><text transform="translate(1424.2 1234.8) scale(1 1.11)">0.086</text><text transform="translate(1619.1 1234.8) scale(1 1.11)">-0.148</text>
<text transform="translate(449.4 1290.9) scale(1 1.11)">0.195</text><text transform="translate(644.3 1290.9) scale(1 1.11)">0.128</text><text transform="translate(839.3 1290.9) scale(1 1.11)">0.056</text><text transform="translate(1034.3 1290.9) scale(1 1.11)">-0.000</text><text transform="translate(1229.2 1290.9) scale(1 1.11)">0.044</text><text transform="translate(1424.2 1290.9) scale(1 1.11)">0.044</text><text transform="translate(1619.1 1290.9) scale(1 1.11)">-0.051</text>
<text transform="translate(449.4 1347.1) scale(1 1.11)">0.130</text><text transform="translate(644.3 1347.1) scale(1 1.11)">0.229</text><text transform="translate(839.3 1347.1) scale(1 1.11)">0.059</text><text transform="translate(1034.3 1347.1) scale(1 1.11)">0.048</text><text transform="translate(1229.2 1347.1) scale(1 1.11)">0.001</text><text transform="translate(1424.2 1347.1) scale(1 1.11)">0.002</text><text transform="translate(1619.1 1347.1) scale(1 1.11)">-0.114</text>
<text transform="translate(449.4 1403.3) scale(1 1.11)">0.005</text><text transform="translate(644.3 1403.3) scale(1 1.11)">0.072</text><text transform="translate(839.3 1403.3) scale(1 1.11)">-0.092</text><text transform="translate(1034.3 1403.3) scale(1 1.11)">-0.044</text><text transform="translate(1229.2 1403.3) scale(1 1.11)">0.025</text><text transform="translate(1424.2 1403.3) scale(1 1.11)">-0.006</text><text transform="translate(1619.1 1403.3) scale(1 1.11)">-0.421</text>
<text transform="translate(449.4 1459.5) scale(1 1.11)">-0.048</text><text transform="translate(644.3 1459.5) scale(1 1.11)">0.273</text><text transform="translate(839.3 1459.5) scale(1 1.11)">-0.249</text><text transform="translate(1034.3 1459.5) scale(1 1.11)">-0.132</text><text transform="translate(1229.2 1459.5) scale(1 1.11)">0.048</text><text transform="translate(1424.2 1459.5) scale(1 1.11)">0.109</text><text transform="translate(1619.1 1459.5) scale(1 1.11)">-0.179</text>
<text transform="translate(449.4 1515.6) scale(1 1.11)">0.512</text><text transform="translate(644.3 1515.6) scale(1 1.11)">0.317</text><text transform="translate(839.3 1515.6) scale(1 1.11)">0.251</text><text transform="translate(1034.3 1515.6) scale(1 1.11)">0.014</text><text transform="translate(1229.2 1515.6) scale(1 1.11)">0.033</text><text transform="translate(1424.2 1515.6) scale(1 1.11)">0.024</text><text transform="translate(1619.1 1515.6) scale(1 1.11)">0.075</text>
<text transform="translate(449.4 1571.8) scale(1 1.11)">0.365</text><text transform="translate(644.3 1571.8) scale(1 1.11)">0.208</text><text transform="translate(839.3 1571.8) scale(1 1.11)">-0.051</text><text transform="translate(1034.3 1571.8) scale(1 1.11)">0.075</text><text transform="translate(1229.2 1571.8) scale(1 1.11)">0.074</text><text transform="translate(1424.2 1571.8) scale(1 1.11)">0.139</text><text transform="translate(1619.1 1571.8) scale(1 1.11)">0.020</text>
<text transform="translate(449.4 1628.0) scale(1 1.11)">0.357</text><text transform="translate(644.3 1628.0) scale(1 1.11)">0.060</text><text transform="translate(839.3 1628.0) scale(1 1.11)">0.034</text><text transform="translate(1034.3 1628.0) scale(1 1.11)">0.188</text><text transform="translate(1229.2 1628.0) scale(1 1.11)">0.151</text><text transform="translate(1424.2 1628.0) scale(1 1.11)">0.260</text><text transform="translate(1619.1 1628.0) scale(1 1.11)">-0.008</text>
<text transform="translate(449.4 1684.1) scale(1 1.11)">0.447</text><text transform="translate(644.3 1684.1) scale(1 1.11)">0.096</text><text transform="translate(839.3 1684.1) scale(1 1.11)">0.205</text><text transform="translate(1034.3 1684.1) scale(1 1.11)">0.318</text><text transform="translate(1229.2 1684.1) scale(1 1.11)">0.033</text><text transform="translate(1424.2 1684.1) scale(1 1.11)">0.066</text><text transform="translate(1619.1 1684.1) scale(1 1.11)">-0.060</text>
<text transform="translate(449.4 1740.3) scale(1 1.11)">0.521</text><text transform="translate(644.3 1740.3) scale(1 1.11)">0.278</text><text transform="translate(839.3 1740.3) scale(1 1.11)">0.184</text><text transform="translate(1034.3 1740.3) scale(1 1.11)">0.021</text><text transform="translate(1229.2 1740.3) scale(1 1.11)">0.164</text><text transform="translate(1424.2 1740.3) scale(1 1.11)">0.118</text><text transform="translate(1619.1 1740.3) scale(1 1.11)">0.125</text>
<text transform="translate(449.4 1796.5) scale(1 1.11)">0.312</text><text transform="translate(644.3 1796.5) scale(1 1.11)">0.249</text><text transform="translate(839.3 1796.5) scale(1 1.11)">-0.181</text><text transform="translate(1034.3 1796.5) scale(1 1.11)">0.157</text><text transform="translate(1229.2 1796.5) scale(1 1.11)">0.027</text><text transform="translate(1424.2 1796.5) scale(1 1.11)">0.351</text><text transform="translate(1619.1 1796.5) scale(1 1.11)">0.139</text>
<text transform="translate(449.4 1852.7) scale(1 1.11)">0.360</text><text transform="translate(644.3 1852.7) scale(1 1.11)">0.030</text><text transform="translate(839.3 1852.7) scale(1 1.11)">0.111</text><text transform="translate(1034.3 1852.7) scale(1 1.11)">0.057</text><text transform="translate(1229.2 1852.7) scale(1 1.11)">0.157</text><text transform="translate(1424.2 1852.7) scale(1 1.11)">0.115</text><text transform="translate(1619.1 1852.7) scale(1 1.11)">0.231</text>
<text transform="translate(449.4 1908.8) scale(1 1.11)">0.452</text><text transform="translate(644.3 1908.8) scale(1 1.11)">-0.021</text><text transform="translate(839.3 1908.8) scale(1 1.11)">0.240</text><text transform="translate(1034.3 1908.8) scale(1 1.11)">0.237</text><text transform="translate(1229.2 1908.8) scale(1 1.11)">0.132</text><text transform="translate(1424.2 1908.8) scale(1 1.11)">0.072</text><text transform="translate(1619.1 1908.8) scale(1 1.11)">0.147</text>
<text transform="translate(449.4 1965.0) scale(1 1.11)">0.367</text><text transform="translate(644.3 1965.0) scale(1 1.11)">0.296</text><text transform="translate(839.3 1965.0) scale(1 1.11)">0.222</text><text transform="translate(1034.3 1965.0) scale(1 1.11)">-0.091</text><text transform="translate(1229.2 1965.0) scale(1 1.11)">-0.059</text><text transform="translate(1424.2 1965.0) scale(1 1.11)">-0.161</text><text transform="translate(1619.1 1965.0) scale(1 1.11)">-0.115</text>
<text transform="translate(449.4 2021.2) scale(1 1.11)">0.320</text><text transform="translate(644.3 2021.2) scale(1 1.11)">0.302</text><text transform="translate(839.3 2021.2) scale(1 1.11)">0.061</text><text transform="translate(1034.3 2021.2) scale(1 1.11)">-0.061</text><text transform="translate(1229.2 2021.2) scale(1 1.11)">-0.039</text><text transform="translate(1424.2 2021.2) scale(1 1.11)">-0.088</text><text transform="translate(1619.1 2021.2) scale(1 1.11)">-0.076</text>
<text transform="translate(449.4 2077.3) scale(1 1.11)">0.330</text><text transform="translate(644.3 2077.3) scale(1 1.11)">0.050</text><text transform="translate(839.3 2077.3) scale(1 1.11)">0.253</text><text transform="translate(1034.3 2077.3) scale(1 1.11)">0.212</text><text transform="translate(1229.2 2077.3) scale(1 1.11)">0.021</text><text transform="translate(1424.2 2077.3) scale(1 1.11)">0.055</text><text transform="translate(1619.1 2077.3) scale(1 1.11)">0.145</text>
<text transform="translate(449.4 2133.5) scale(1 1.11)">0.321</text><text transform="translate(644.3 2133.5) scale(1 1.11)">0.085</text><text transform="translate(839.3 2133.5) scale(1 1.11)">0.286</text><text transform="translate(1034.3 2133.5) scale(1 1.11)">0.188</text><text transform="translate(1229.2 2133.5) scale(1 1.11)">-0.047</text><text transform="translate(1424.2 2133.5) scale(1 1.11)">0.151</text><text transform="translate(1619.1 2133.5) scale(1 1.11)">-0.167</text>
</g>
<g stroke="#000" stroke-width="2.1" fill="none">
<path d="M332.3 9.7 V2156.6 H1735.6" stroke-linecap="butt"/>
</g>
<g stroke="#333" stroke-width="2.1" fill="none">
<path d="M325.9 44.1 H331.2"/><path d="M325.9 100.3 H331.2"/><path d="M325.9 156.5 H331.2"/><path d="M325.9 212.6 H331.2"/><path d="M325.9 268.8 H331.2"/><path d="M325.9 325.0 H331.2"/><path d="M325.9 381.2 H331.2"/><path d="M325.9 437.4 H331.2"/><path d="M325.9 493.6 H331.2"/><path d="M325.9 549.7 H331.2"/><path d="M325.9 605.9 H331.2"/><path d="M325.9 662.1 H331.2"/><path d="M325.9 718.3 H331.2"/><path d="M325.9 774.5 H331.2"/><path d="M325.9 830.7 H331.2"/><path d="M325.9 886.9 H331.2"/><path d="M325.9 943.0 H331.2"/><path d="M325.9 999.2 H331.2"/><path d="M325.9 1055.4 H331.2"/><path d="M325.9 1111.6 H331.2"/><path d="M325.9 1167.8 H331.2"/><path d="M325.9 1224.0 H331.2"/><path d="M325.9 1280.1 H331.2"/><path d="M325.9 1336.3 H331.2"/><path d="M325.9 1392.5 H331.2"/><path d="M325.9 1448.7 H331.2"/><path d="M325.9 1504.9 H331.2"/><path d="M325.9 1561.1 H331.2"/><path d="M325.9 1617.3 H331.2"/><path d="M325.9 1673.4 H331.2"/><path d="M325.9 1729.6 H331.2"/><path d="M325.9 1785.8 H331.2"/><path d="M325.9 1842.0 H331.2"/><path d="M325.9 1898.2 H331.2"/><path d="M325.9 1954.4 H331.2"/><path d="M325.9 2010.5 H331.2"/><path d="M325.9 2066.7 H331.2"/><path d="M325.9 2122.9 H331.2"/>
<path d="M449.5 2157.7 V2163.0"/><path d="M644.3 2157.7 V2163.0"/><path d="M839.1 2157.7 V2163.0"/><path d="M1033.9 2157.7 V2163.0"/><path d="M1228.7 2157.7 V2163.0"/><path d="M1423.5 2157.7 V2163.0"/><path d="M1618.3 2157.7 V2163.0"/>
</g>
<g class="yl">
<text transform="translate(320.2 56.7) scale(1 1.075)"><tspan font-size="35.2">T</tspan><tspan dx="-2.3">a</tspan>il-r</text>
<text transform="translate(320.2 112.9) scale(1 1.075)"><tspan font-size="35.2">T</tspan><tspan dx="-2.3">a</tspan>il-l</text>
<text transform="translate(320.2 169.1) scale(1 1.075)"><tspan font-size="35.2">S</tspan>ubiculum-head-r</text>
<text transform="translate(320.2 225.4) scale(1 1.075)"><tspan font-size="35.2">S</tspan>ubiculum-head-l</text>
<text transform="translate(320.2 281.6) scale(1 1.075)"><tspan font-size="35.2">S</tspan>ubiculum-body-r</text>
<text transform="translate(320.2 337.8) scale(1 1.075)"><tspan font-size="35.2">S</tspan>ubiculum-body-l</text>
<text transform="translate(320.2 394.1) scale(1 1.075)"><tspan font-size="35.2">P</tspan>resubiculum-head-r</text>
<text transform="translate(320.2 450.3) scale(1 1.075)"><tspan font-size="35.2">P</tspan>resubiculum-head-l</text>
<text transform="translate(320.2 506.5) scale(1 1.075)"><tspan font-size="35.2">P</tspan>resubiculum-body-r</text>
<text transform="translate(320.2 562.7) scale(1 1.075)"><tspan font-size="35.2">P</tspan>resubiculum-body-l</text>
<text transform="translate(320.2 619.0) scale(1 1.075)"><tspan font-size="35.2">P</tspan>arasubiculum-r</text>
<text transform="translate(320.2 675.2) scale(1 1.075)"><tspan font-size="35.2">P</tspan>arasubiculum-l</text>
<text transform="translate(320.2 731.4) scale(1 1.075)"><tspan font-size="35.2">ML</tspan><tspan dx="-2.2">-</tspan>head-r</text>
<text transform="translate(320.2 787.6) scale(1 1.075)"><tspan font-size="35.2">ML</tspan><tspan dx="-2.2">-</tspan>head-l</text>
<text transform="translate(320.2 843.9) scale(1 1.075)"><tspan font-size="35.2">ML</tspan><tspan dx="-2.2">-</tspan>body-r</text>
<text transform="translate(320.2 900.1) scale(1 1.075)"><tspan font-size="35.2">ML</tspan><tspan dx="-2.2">-</tspan>body-l</text>
<text transform="translate(320.2 956.3) scale(1 1.075)"><tspan font-size="35.2">HATA</tspan>-r</text>
<text transform="translate(320.2 1012.6) scale(1 1.075)"><tspan font-size="35.2">HATA</tspan>-l</text>
<text transform="translate(320.2 1068.8) scale(1 1.075)"><tspan font-size="35.2">GCMLDG</tspan>-head-r</text>
<text transform="translate(320.2 1125.0) scale(1 1.075)"><tspan font-size="35.2">GCMLDG</tspan>-head-l</text>
<text transform="translate(320.2 1181.2) scale(1 1.075)"><tspan font-size="35.2">GCMLDG</tspan>-body-r</text>
<text transform="translate(320.2 1237.5) scale(1 1.075)"><tspan font-size="35.2">GCMLDG</tspan>-body-l</text>
<text transform="translate(320.2 1293.7) scale(1 1.075)"><tspan font-size="35.2">F</tspan><tspan dx="1.1">i</tspan>ssure-r</text>
<text transform="translate(320.2 1349.9) scale(1 1.075)"><tspan font-size="35.2">F</tspan><tspan dx="1.1">i</tspan>ssure-l</text>
<text transform="translate(320.2 1406.2) scale(1 1.075)"><tspan font-size="35.2">F</tspan><tspan dx="1.1">i</tspan>mbria-r</text>
<text transform="translate(320.2 1462.4) scale(1 1.075)"><tspan font-size="35.2">F</tspan><tspan dx="1.1">i</tspan>mbria-l</text>
<text transform="translate(320.2 1518.6) scale(1 1.075)"><tspan font-size="35.2">C<tspan dx="-1.2">A</tspan><tspan dx="-1.2">4</tspan></tspan>-head-r</text>
<text transform="translate(320.2 1574.8) scale(1 1.075)"><tspan font-size="35.2">C<tspan dx="-1.2">A</tspan><tspan dx="-1.2">4</tspan></tspan>-head-l</text>
<text transform="translate(320.2 1631.1) scale(1 1.075)"><tspan font-size="35.2">C<tspan dx="-1.2">A</tspan><tspan dx="-1.2">4</tspan></tspan>-body-r</text>
<text transform="translate(320.2 1687.3) scale(1 1.075)"><tspan font-size="35.2">C<tspan dx="-1.2">A</tspan><tspan dx="-1.2">4</tspan></tspan>-body-l</text>
<text transform="translate(320.2 1743.5) scale(1 1.075)"><tspan font-size="35.2">C<tspan dx="-1.2">A</tspan><tspan dx="-1.2">3</tspan></tspan>-head-r</text>
<text transform="translate(320.2 1799.7) scale(1 1.075)"><tspan font-size="35.2">C<tspan dx="-1.2">A</tspan><tspan dx="-1.2">3</tspan></tspan>-head-l</text>
<text transform="translate(320.2 1856.0) scale(1 1.075)"><tspan font-size="35.2">C<tspan dx="-1.2">A</tspan><tspan dx="-1.2">3</tspan></tspan>-body-r</text>
<text transform="translate(320.2 1912.2) scale(1 1.075)"><tspan font-size="35.2">C<tspan dx="-1.2">A</tspan><tspan dx="-1.2">3</tspan></tspan>-body-l</text>
<text transform="translate(320.2 1968.4) scale(1 1.075)"><tspan font-size="35.2">C<tspan dx="-1.2">A</tspan><tspan dx="-1.2">1</tspan></tspan>-head-r</text>
<text transform="translate(320.2 2024.7) scale(1 1.075)"><tspan font-size="35.2">C<tspan dx="-1.2">A</tspan><tspan dx="-1.2">1</tspan></tspan>-head-l</text>
<text transform="translate(320.2 2080.9) scale(1 1.075)"><tspan font-size="35.2">C<tspan dx="-1.2">A</tspan><tspan dx="-1.2">1</tspan></tspan>-body-r</text>
<text transform="translate(320.2 2137.1) scale(1 1.075)"><tspan font-size="35.2">C<tspan dx="-1.2">A</tspan><tspan dx="-1.2">1</tspan></tspan>-body-l</text>
</g>
<g class="xl">
<text transform="translate(449.5 2194.9) scale(1 1.06)">aerobic fitness</text>
<text transform="translate(644.3 2194.9) scale(1 1.075)"><tspan font-size="35.1">BMI</tspan></text>
<text transform="translate(839.1 2194.9) scale(1 1.06)">age</text>
<text transform="translate(1033.9 2194.9) scale(1 1.06)">sex</text>
<text transform="translate(1228.7 2194.9) scale(1 1.075)"><tspan font-size="35.1">EY</tspan></text>
<text transform="translate(1423.5 2194.9) scale(1 1.075)"><tspan font-size="35.1">DD</tspan></text>
<text transform="translate(1618.3 2194.9) scale(1 1.075)"><tspan font-size="35.1">CPZ</tspan></text>
</g>
<rect x="1776" y="936" width="71.59999999999991" height="355" fill="url(#g)"/>
<g stroke="#fff" stroke-width="1.4" fill="none">
<path d="M1776 936.9 h14.3 M1847.6 936.9 h-14.3"/><path d="M1776 1024.8 h14.3 M1847.6 1024.8 h-14.3"/><path d="M1776 1113.5 h14.3 M1847.6 1113.5 h-14.3"/><path d="M1776 1202.2 h14.3 M1847.6 1202.2 h-14.3"/><path d="M1776 1290.1 h14.3 M1847.6 1290.1 h-14.3"/>
</g>
<g class="ll">
<text transform="translate(1864.2 946.9) scale(1 1.125)">0.6</text>
<text transform="translate(1864.2 1035.7) scale(1 1.125)">0.3</text>
<text transform="translate(1864.2 1124.4) scale(1 1.125)">0.0</text>
<text transform="translate(1864.2 1213.2) scale(1 1.125)">-0.3</text>
<text transform="translate(1864.2 1301.9) scale(1 1.125)">-0.6</text>
</g>
<text class="lt" transform="translate(1777 907.3) scale(1 1.04)">β<tspan> </tspan><tspan x="30.4" textLength="26.3" lengthAdjust="spacingAndGlyphs" stroke="#000" stroke-width="0.3" dy="1.5">−</tspan><tspan x="54.5" dy="-1.5"> coefficient</tspan></text>
</g>
</svg>
</body>
</html>
